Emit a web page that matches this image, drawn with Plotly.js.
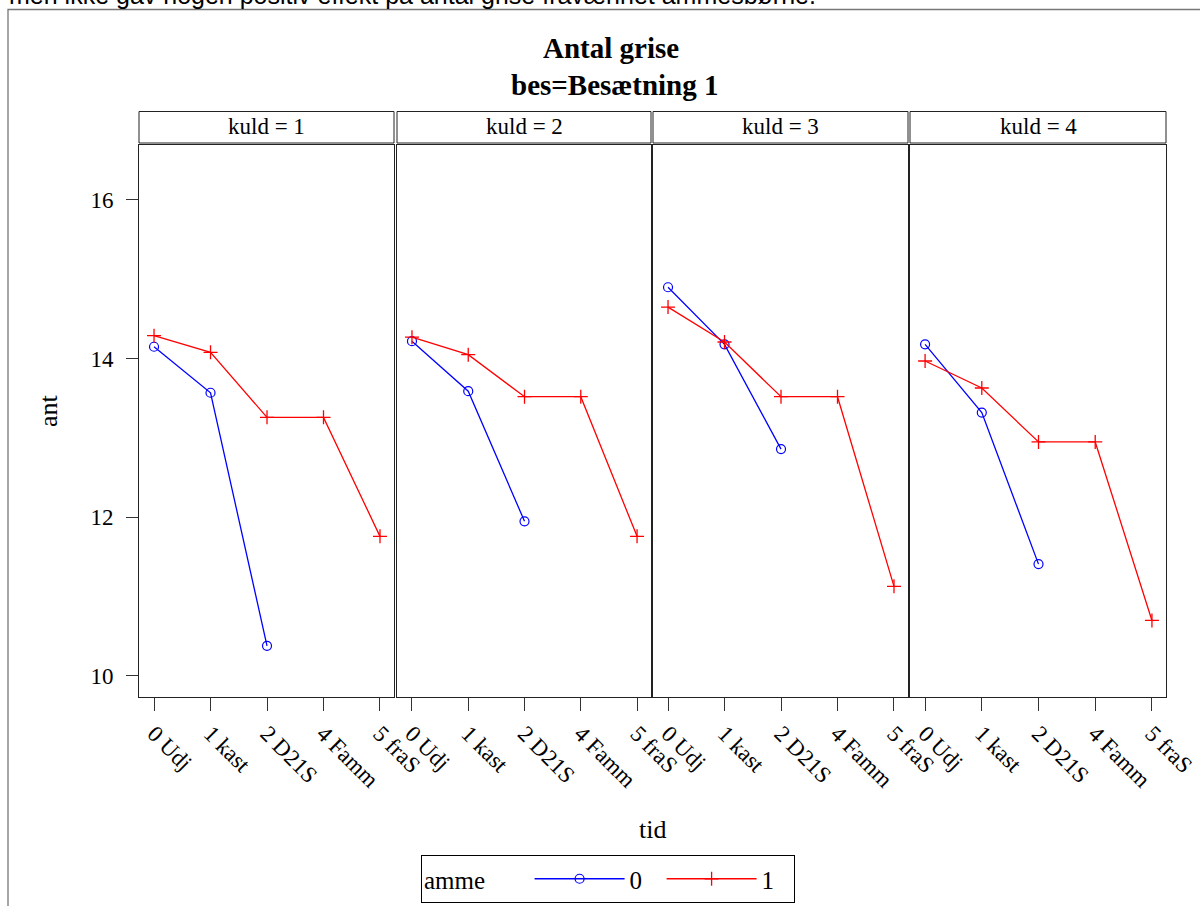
<!DOCTYPE html>
<html>
<head>
<meta charset="utf-8">
<script src="https://cdn.plot.ly/plotly-3.0.1.min.js"></script>
<style>html,body{margin:0;padding:0;background:#fff;}#chart{width:1200px;height:906px;}</style>
</head>
<body>
<div id="chart"></div>
<script>
// ---- data ----
const tidCategories = ['0 Udj', '1 kast', '2 D21S', '4 Famm', '5 fraS'];
const kuldLabels = ['kuld = 1', 'kuld = 2', 'kuld = 3', 'kuld = 4'];
const ammeLabels = ['0', '1'];
const yTickValues = [10, 12, 14, 16];
// amme = 0 (only first three tid levels)
const amme0_kuld1 = [14.15, 13.57, 10.38];
const amme0_kuld2 = [14.22, 13.59, 11.95];
const amme0_kuld3 = [14.90, 14.18, 12.86];
const amme0_kuld4 = [14.18, 13.32, 11.41];
// amme = 1
const amme1_kuld1 = [14.29, 14.08, 13.26, 13.26, 11.76];
const amme1_kuld2 = [14.27, 14.05, 13.52, 13.52, 11.76];
const amme1_kuld3 = [14.65, 14.21, 13.52, 13.52, 11.13];
const amme1_kuld4 = [13.97, 13.63, 12.95, 12.95, 10.70];

const amme0 = [amme0_kuld1, amme0_kuld2, amme0_kuld3, amme0_kuld4];
const amme1 = [amme1_kuld1, amme1_kuld2, amme1_kuld3, amme1_kuld4];

// ---- layout geometry (pixels) ----
const W = 1200, H = 906;
const mL = 139, mR = 34, mT = 111, mB = 209;
const pw = W - mL - mR, ph = H - mT - mB;
const px = x => (x - mL) / pw;
const py = y => (H - mB - y) / ph;
const panelPx = [[139, 394], [397, 651], [653, 908], [910, 1166]];

const serif = 'Liberation Serif, Times New Roman, serif';
const blue = '#0000FF', red = '#FF0000';

const traces = [];
const layout = {
  width: W, height: H,
  margin: {l: mL, r: mR, t: mT, b: mB, autoexpand: false},
  paper_bgcolor: '#fff', plot_bgcolor: '#fff',
  font: {family: serif, size: 23, color: '#000'},
  showlegend: true,
  legend: {
    orientation: 'h', x: px(421), xanchor: 'left', y: py(855), yanchor: 'top',
    bordercolor: '#000', borderwidth: 1, bgcolor: '#fff',
    title: {text: 'amme&nbsp;&nbsp;&nbsp;&nbsp;&nbsp;&nbsp;', font: {family: serif, size: 25}, side: 'left'},
    font: {family: serif, size: 25}, itemwidth: 90,
    entrywidth: 27, entrywidthmode: 'pixels',
    tracegroupgap: 0, valign: 'middle'
  },
  shapes: [], annotations: []
};

panelPx.forEach((p, i) => {
  const n = i === 0 ? '' : String(i + 1);
  const xa = 'xaxis' + n, ya = 'yaxis' + n;
  layout[xa] = {
    domain: [px(p[0]), px(p[1])],
    type: 'category', categoryorder: 'array', categoryarray: tidCategories,
    range: [-0.266, 4.248], anchor: 'y' + n,
    showline: true, mirror: true, linecolor: '#222', linewidth: 1,
    ticks: 'outside', ticklen: 13, tickcolor: '#333', tickwidth: 1,
    tickangle: 45, tickfont: {family: serif, size: 23},
    showgrid: false, zeroline: false, fixedrange: true
  };
  layout[ya] = {
    domain: [0, py(145)], range: [9.735, 16.693], anchor: 'x' + n,
    showline: true, mirror: true, linecolor: '#222', linewidth: 1,
    ticks: i === 0 ? 'outside' : '', ticklen: 12, tickcolor: '#333',
    showticklabels: i === 0, tickvals: yTickValues,
    tickfont: {family: serif, size: 23}, ticklabelstandoff: 8,
    showgrid: false, zeroline: false, fixedrange: true
  };
  traces.push({
    type: 'scatter', mode: 'lines+markers',
    x: tidCategories.slice(0, amme0[i].length), y: amme0[i],
    xaxis: 'x' + n, yaxis: 'y' + n,
    name: ammeLabels[0], legendgroup: 'a0', showlegend: i === 0,
    line: {color: blue, width: 1.3},
    marker: {symbol: 'circle-open', size: 9, color: blue, line: {width: 1.2, color: blue}}
  });
  traces.push({
    type: 'scatter', mode: 'lines+markers',
    x: tidCategories.slice(0, amme1[i].length), y: amme1[i],
    xaxis: 'x' + n, yaxis: 'y' + n,
    name: ammeLabels[1], legendgroup: 'a1', showlegend: i === 0,
    line: {color: red, width: 1.3},
    marker: {symbol: 'cross-thin-open', size: 10, color: red, line: {width: 1.3, color: red}}
  });
  // strip
  layout.shapes.push({
    type: 'rect', xref: 'paper', yref: 'paper',
    x0: px(p[0]), x1: px(p[1]), y0: py(143), y1: py(111.5),
    line: {color: '#222', width: 1}, fillcolor: '#fff'
  });
  layout.annotations.push({
    xref: 'paper', yref: 'paper', x: (px(p[0]) + px(p[1])) / 2, y: py(127),
    xanchor: 'center', yanchor: 'middle', showarrow: false,
    text: kuldLabels[i], font: {family: serif, size: 23}
  });
});

// outer frame
layout.shapes.push({
  type: 'path', xref: 'paper', yref: 'paper',
  path: `M ${px(8)} ${py(915)} L ${px(8)} ${py(9.5)} L ${px(1210)} ${py(9.5)}`,
  line: {color: '#777', width: 1.3}
});

// titles
layout.annotations.push(
  {xref: 'paper', yref: 'paper', x: px(611), y: py(48), xanchor: 'center', yanchor: 'middle',
   showarrow: false, text: '<b>Antal grise</b>', font: {family: serif, size: 29}},
  {xref: 'paper', yref: 'paper', x: px(614), y: py(85), xanchor: 'center', yanchor: 'middle',
   showarrow: false, text: '<b>bes=Besætning 1</b>', font: {family: serif, size: 29}},
  {xref: 'paper', yref: 'paper', x: px(652), y: py(829), xanchor: 'center', yanchor: 'middle',
   showarrow: false, text: 'tid', font: {family: serif, size: 26}},
  {xref: 'paper', yref: 'paper', x: px(48), y: py(411), xanchor: 'center', yanchor: 'middle',
   showarrow: false, text: 'ant', textangle: -90, font: {family: serif, size: 26}},
  {xref: 'paper', yref: 'paper', x: px(7), y: py(11), xanchor: 'left', yanchor: 'bottom',
   showarrow: false, text: 'men ikke gav nogen positiv effekt på antal grise fravænnet ammesbørne.',
   font: {family: 'Liberation Sans, Arial, sans-serif', size: 25}}
);

Plotly.newPlot('chart', traces, layout, {displayModeBar: false, staticPlot: true});
</script>
</body>
</html>
